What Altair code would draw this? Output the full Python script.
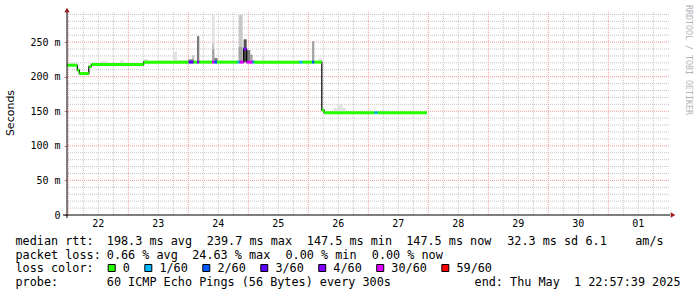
import altair as alt
import pandas as pd

# ---------------- data ----------------
# median rtt segments: time in days (day of month, May 1 = 31), value in ms
seg_start = [21.978, 22.150, 22.183, 22.342, 22.383, 23.255, 24.005, 24.088, 24.145, 24.183,
             24.395, 24.433, 24.478, 24.822, 24.855, 24.922, 24.972, 25.072, 25.100, 25.855,
             25.900, 26.062, 26.100, 26.225, 26.262, 27.105, 27.155]
seg_end = [22.150, 22.183, 22.342, 22.383, 23.255, 24.005, 24.088, 24.145, 24.183, 24.395,
           24.433, 24.478, 24.822, 24.855, 24.922, 24.972, 25.072, 25.100, 25.855, 25.900,
           26.062, 26.100, 26.225, 26.262, 27.105, 27.155, 27.978]
seg_ms = [216.5, 209.5, 204.5, 214.5, 217.5, 221, 221, 221, 221, 221,
          221, 221, 221, 221, 221, 240, 221, 221, 221, 221,
          221, 221, 221, 151.5, 148, 148, 148]
seg_loss = ["0", "0", "0", "0", "0", "0", "3/60", "0", "4/60", "0",
            "30/60", "2/60", "0", "1/60", "30/60", "4/60", "30/60", "1/60", "0", "1/60",
            "0", "2/60", "0", "0", "0", "1/60", "0"]

# smoke (ping distribution) bars
smoke_start = [21.978, 22.530, 22.870, 23.255, 23.480, 23.755, 23.820, 24.060, 24.005, 24.145,
               24.183, 24.395, 24.395, 24.395, 24.433, 24.488, 24.780, 24.838, 24.838, 24.922,
               24.972, 25.033, 25.072, 25.100, 25.228, 25.500, 26.062, 26.167, 26.420, 26.480,
               26.570, 26.680, 27.000, 27.200]
smoke_end = [22.150, 22.650, 22.920, 23.330, 23.700, 23.810, 24.000, 24.100, 24.088, 24.183,
             24.383, 24.433, 24.433, 24.433, 24.488, 24.700, 24.838, 24.905, 24.905, 24.972,
             25.033, 25.072, 25.100, 25.500, 25.267, 25.850, 26.100, 26.228, 26.480, 26.570,
             26.620, 26.750, 27.080, 27.400]
smoke_lo = [216.5, 217.5, 217.5, 221, 221, 221, 221, 221, 221, 221,
            221, 221, 221, 221, 221, 221, 221, 221, 221, 221,
            221, 221, 221, 221, 221, 221, 221, 221, 148, 148,
            148, 148, 148, 148]
smoke_hi = [219.5, 222.5, 224.0, 225.5, 223.5, 236.0, 224.0, 231.0, 225.0, 258.7,
            223.5, 289.0, 248.5, 240.0, 227.0, 223.0, 224.0, 289.0, 243.0, 254.0,
            238.6, 232.0, 224.0, 223.0, 228.0, 222.5, 251.4, 226.4, 155.0, 160.4,
            155.0, 150.5, 150.5, 150.0]
smoke_shade = [1, 1, 1, 1, 1, 1, 1, 2, 4, 4,
               1, 1, 2, 3, 4, 1, 1, 2, 3, 5,
               4, 3, 3, 1, 1, 1, 3, 1, 1, 1,
               1, 1, 1, 1]

loss_labels = ["0", "1/60", "2/60", "3/60", "4/60", "30/60", "59/60"]
loss_colors = ["#26ff00", "#00b8ff", "#0059ff", "#5e00ff", "#7e00ff", "#dd00ff", "#ff0000"]
shade_levels = [1, 2, 3, 4, 5]
shade_colors = ["#e2e2e2", "#c8c8c8", "#a4a4a4", "#7c7c7c", "#505050"]

day_ticks = [22.5, 23.5, 24.5, 25.5, 26.5, 27.5, 28.5, 29.5, 30.5, 31.5]
day_labels = ["22", "23", "24", "25", "26", "27", "28", "29", "30", "01"]
y_ticks = [0, 50, 100, 150, 200, 250]

stat_line1 = ["median rtt:", "198.3 ms avg", "239.7 ms max", "147.5 ms min", "147.5 ms now",
              "32.3 ms sd", "6.1", "am/s"]
stat_line2 = ["packet loss:", "0.66 % avg", "24.63 % max", "0.00 % min", "0.00 % now"]
probe_text = "60 ICMP Echo Pings (56 Bytes) every 300s"
end_text = "end: Thu May  1 22:57:39 2025"

# ---------------- layout ----------------
W, H = 602, 203
OX, OY = 67, 12  # plot origin in page pixels
X0, X1 = 21.978, 21.978 + W / 60.0
Y1 = 293.5
MONO = "DejaVu Sans Mono"
FS = 11.8

xs = alt.Scale(domain=[X0, X1], nice=False, zero=False)
ys = alt.Scale(domain=[0, Y1], nice=False, zero=True)

x_axis = alt.Axis(values=day_ticks, labels=False, grid=False, domain=False, ticks=False,
                  title=None)
y_axis = alt.Axis(values=y_ticks,
                  labelExpr="datum.value == 0 ? '0\u00a0\u00a0' : datum.value + '\u00a0m'",
                  grid=False, domain=False, ticks=True, tickSize=3, tickColor="#e08a8a",
                  title=None, labelFont=MONO, labelFontSize=10, labelColor="#000000",
                  labelPadding=4, labelFlush=False, labelOverlap=False)

# grid lines
minor_v = [22 + i * 0.25 for i in range(41) if i % 4 != 0]
major_v = [22 + i for i in range(10)]
minor_h = [v for v in range(10, 291, 10) if v % 50 != 0]
major_h = [50, 100, 150, 200, 250]

def vgrid(vals, color):
    return alt.Chart(pd.DataFrame({"t": vals})).mark_rule(
        color=color, strokeWidth=1, strokeDash=[1, 1]).encode(
        x=alt.X("t:Q", scale=xs, axis=x_axis))

def hgrid(vals, color):
    return alt.Chart(pd.DataFrame({"v": vals})).mark_rule(
        color=color, strokeWidth=1, strokeDash=[1, 1]).encode(
        y=alt.Y("v:Q", scale=ys, axis=y_axis))

grid_minor_v = vgrid(minor_v, "#c4c4c4")
grid_minor_h = hgrid(minor_h, "#c4c4c4")
grid_major_v = vgrid(major_v, "#f09a9a")
grid_major_h = hgrid(major_h, "#f09a9a")

smoke_df = pd.DataFrame({"t0": smoke_start, "t1": smoke_end, "lo": smoke_lo,
                         "hi": smoke_hi, "shade": smoke_shade})
smoke_df = smoke_df.sort_values("shade", kind="stable").reset_index(drop=True)
smoke_df["ord"] = range(len(smoke_df))
smoke = alt.Chart(smoke_df).mark_rect().encode(
    x=alt.X("t0:Q", scale=xs, axis=x_axis), x2="t1:Q",
    y=alt.Y("lo:Q", scale=ys, axis=y_axis), y2="hi:Q",
    fill=alt.Fill("shade:O", scale=alt.Scale(domain=shade_levels, range=shade_colors),
                  legend=None),
    order="ord:Q")

line_pts = pd.DataFrame({"t": seg_start + [seg_end[-1]], "ms": seg_ms + [seg_ms[-1]]})
median_line = alt.Chart(line_pts).mark_line(
    color="#000000", strokeWidth=1.2, interpolate="step-after").encode(
    x=alt.X("t:Q", scale=xs, axis=x_axis), y=alt.Y("ms:Q", scale=ys, axis=y_axis))

seg_df = pd.DataFrame({"t0": seg_start, "t1": seg_end, "ms": seg_ms, "loss": seg_loss})
loss_segments = alt.Chart(seg_df).mark_rule(strokeWidth=3).encode(
    x=alt.X("t0:Q", scale=xs, axis=x_axis), x2="t1:Q",
    y=alt.Y("ms:Q", scale=ys, axis=y_axis),
    stroke=alt.Stroke("loss:N", scale=alt.Scale(domain=loss_labels, range=loss_colors),
                      legend=None))

# day labels on the time axis (centred at noon)
day_df = pd.DataFrame({"pos": day_ticks, "lab": day_labels})
day_text = alt.Chart(day_df).mark_text(
    font=MONO, fontSize=10, color="#000000", align="center", baseline="alphabetic").encode(
    x=alt.X("pos:Q", scale=xs, axis=x_axis), y=alt.value(226.6 - OY), text="lab:N")

one = pd.DataFrame({"a": [0]})

def rule(x, x2, y, y2, color="#000000", width=1):
    return alt.Chart(one).mark_rule(color=color, strokeWidth=width).encode(
        x=alt.value(x), x2=alt.value(x2), y=alt.value(y), y2=alt.value(y2))

def text(txt, x, y, align="left", baseline="alphabetic", size=FS, font=MONO,
         color="#000000", angle=0):
    return alt.Chart(pd.DataFrame({"s": [txt]})).mark_text(
        align=align, baseline=baseline, fontSize=size, font=font, color=color,
        angle=angle).encode(x=alt.value(x), y=alt.value(y), text="s:N")

def nb(s):
    return s.replace(" ", "\u00a0")

x_axis_line = rule(-4, W + 1, H, H)
y_axis_line = rule(0, 0, 0, H + 3)
arrow_x = alt.Chart(one).mark_point(shape="triangle-right", filled=True, size=28,
                                    color="#9b1c1c", opacity=1).encode(
    x=alt.value(W + 4), y=alt.value(H))
arrow_y = alt.Chart(one).mark_point(shape="triangle-up", filled=True, size=28,
                                    color="#9b1c1c", opacity=1).encode(
    x=alt.value(0), y=alt.value(-2))

layers = [grid_minor_v, grid_minor_h, grid_major_v, grid_major_h, smoke,
          median_line, loss_segments, day_text, x_axis_line, y_axis_line, arrow_x, arrow_y]

# y title and watermark
layers.append(text("Seconds", 11 - OX, 113 - OY, align="center", baseline="middle",
                   size=11, font="DejaVu Sans", angle=270))
layers.append(text(nb("RRDTOOL / TOBI OETIKER"), 688 - OX, 60 - OY, align="center",
                   baseline="middle", size=8.3, color="#b4b4b4", angle=90))

# statistics lines
base1, base2, base3, base4 = 245.3, 258.8, 272.3, 285.8
x_line1 = [15.5, 106.8, 206.8, 306.8, 406.2, 507.2, 585.5, 635.2]
for s, xp in zip(stat_line1, x_line1):
    layers.append(text(nb(s), xp - OX, base1 - OY))
x_line2 = [15.5, 106.8, 192.2, 285.5, 371.8]
for s, xp in zip(stat_line2, x_line2):
    layers.append(text(nb(s), xp - OX, base2 - OY))

# loss colour legend
layers.append(text(nb("loss color:"), 15.5 - OX, base3 - OY))
cw, gap = 7.12, 29.5
tx = 122.8
for lab, col in zip(loss_labels, loss_colors):
    bx = tx - 14.6
    layers.append(alt.Chart(one).mark_rect(fill=col, stroke="#000000", strokeWidth=1).encode(
        x=alt.value(bx - OX), x2=alt.value(bx + 7 - OX),
        y=alt.value(264.5 - OY), y2=alt.value(271.5 - OY)))
    layers.append(text(nb(lab), tx - OX, base3 - OY))
    tx += len(lab) * cw + gap

layers.append(text(nb("probe:"), 15.5 - OX, base4 - OY))
layers.append(text(nb(probe_text), 106.8 - OX, base4 - OY))
layers.append(text(nb(end_text), 680.5 - OX, base4 - OY, align="right"))

chart = alt.layer(*layers).resolve_scale(fill="independent", stroke="independent").properties(
    width=W, height=H,
    autosize=alt.AutoSizeParams(type="none"),
    padding={"left": OX, "top": OY, "right": 697 - OX - W, "bottom": 297 - OY - H},
    background="#ffffff",
).configure_view(stroke=None)

chart.save("out.html", embed_options={"renderer": "svg", "actions": False})
